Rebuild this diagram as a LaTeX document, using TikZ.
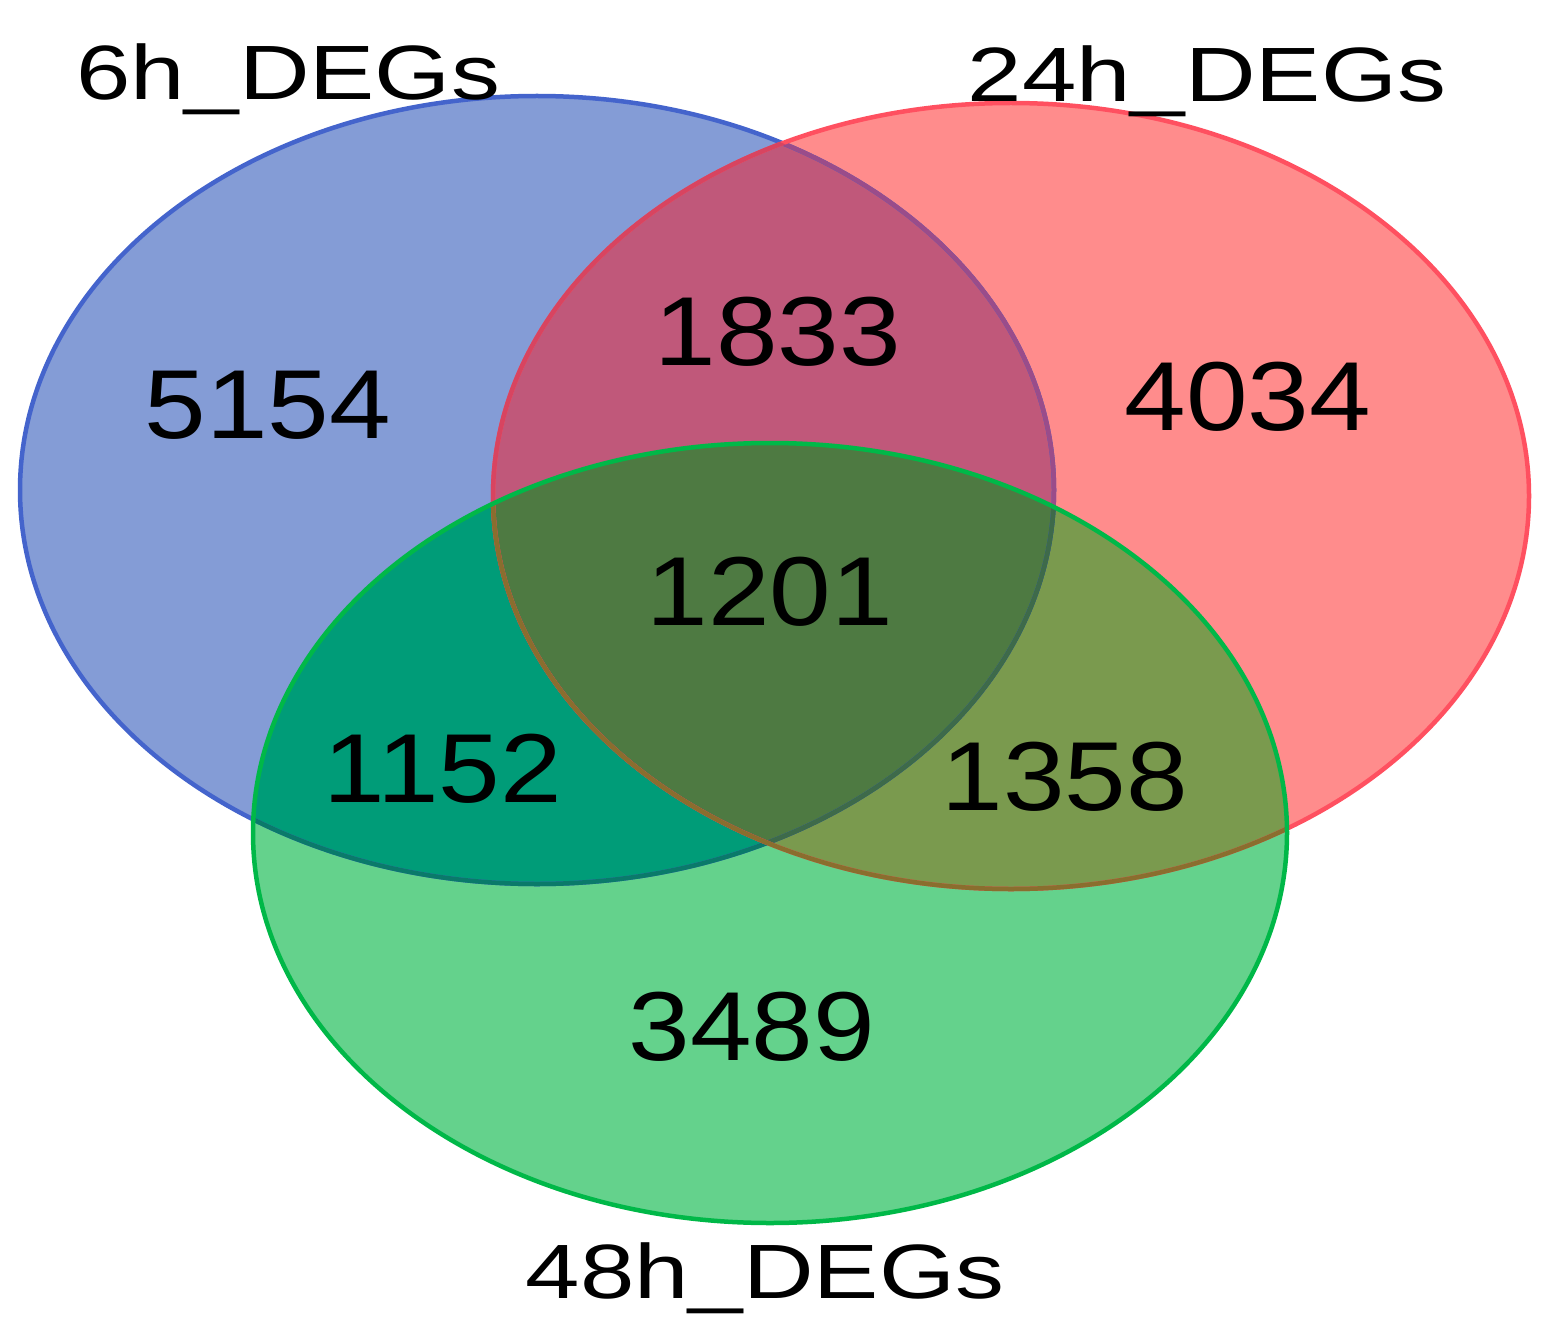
\documentclass[tikz,border=0pt]{standalone}
\usepackage{fontspec}
\setmainfont{Liberation Sans}
\definecolor{cB}{HTML}{849CD6}
\definecolor{cR}{HTML}{FF8C8C}
\definecolor{cG}{HTML}{64D28C}
\definecolor{cBR}{HTML}{C0587A}
\definecolor{cBG}{HTML}{009C78}
\definecolor{cRG}{HTML}{7A9A4E}
\definecolor{cBRG}{HTML}{4E7A42}
\definecolor{sB}{HTML}{4464CC}
\definecolor{sBinR}{HTML}{9A4C8A}
\definecolor{sBinG}{HTML}{0A7A6A}
\definecolor{sBinRG}{HTML}{3E6A4A}
\definecolor{sR}{HTML}{FF5060}
\definecolor{sRinB}{HTML}{D84460}
\definecolor{sRinG}{HTML}{8A6E2E}
\definecolor{sG}{HTML}{00B848}
\def\Bpath{(537,490) ellipse [x radius=517pt, y radius=394pt]}
\def\Rpath{(1011,496) ellipse [x radius=518pt, y radius=393pt]}
\def\Gpath{(770,833) ellipse [x radius=517pt, y radius=390pt]}
\tikzset{
  outline/.style={line width=4.5pt},
  num/.style={font=\fontsize{98}{100}\selectfont, anchor=base, xscale=1.13, inner sep=0pt},
  lab/.style={font=\fontsize{77}{80}\selectfont, anchor=base, xscale=1.27, inner sep=0pt}
}
\begin{document}
\begin{tikzpicture}[x=1pt,y=-1pt]
\useasboundingbox (0,0) rectangle (1550,1340);
\fill[white] (0,0) rectangle (1550,1340);
% region fills
\fill[cB] \Bpath;
\fill[cR] \Rpath;
\fill[cG] \Gpath;
\begin{scope}\clip \Bpath; \fill[cBR] \Rpath; \fill[cBG] \Gpath; \end{scope}
\begin{scope}\clip \Rpath; \fill[cRG] \Gpath; \end{scope}
\begin{scope}\clip \Bpath; \clip \Rpath; \fill[cBRG] \Gpath; \end{scope}
% blue outline
\draw[outline, sB] \Bpath;
\begin{scope}\clip \Rpath; \draw[outline, sBinR] \Bpath; \end{scope}
\begin{scope}\clip \Gpath; \draw[outline, sBinG] \Bpath; \end{scope}
\begin{scope}\clip \Gpath; \clip \Rpath; \draw[outline, sBinRG] \Bpath; \end{scope}
% red outline
\draw[outline, sR] \Rpath;
\begin{scope}\clip \Bpath; \draw[outline, sRinB] \Rpath; \end{scope}
\begin{scope}\clip \Gpath; \draw[outline, sRinG] \Rpath; \end{scope}
% green outline
\draw[outline, sG] \Gpath;
% labels
\node[lab] (l6) at (288,100) {6h\_DEGs};
\node[lab] (l24) at (1207,102) {24h\_DEGs};
\node[lab] (l48) at (765,1298) {48h\_DEGs};
% numbers
\node[num] (n5154) at (268,438) {5154};
\node[num] (n1833) at (778,365) {1833};
\node[num] (n4034) at (1248,430) {4034};
\node[num] (n1201) at (770,625) {1201};
\node[num] (n1152) at (443,802) {1152};
\node[num] (n1358) at (1065,810) {1358};
\node[num] (n3489) at (752,1060) {3489};
\end{tikzpicture}
\end{document}
